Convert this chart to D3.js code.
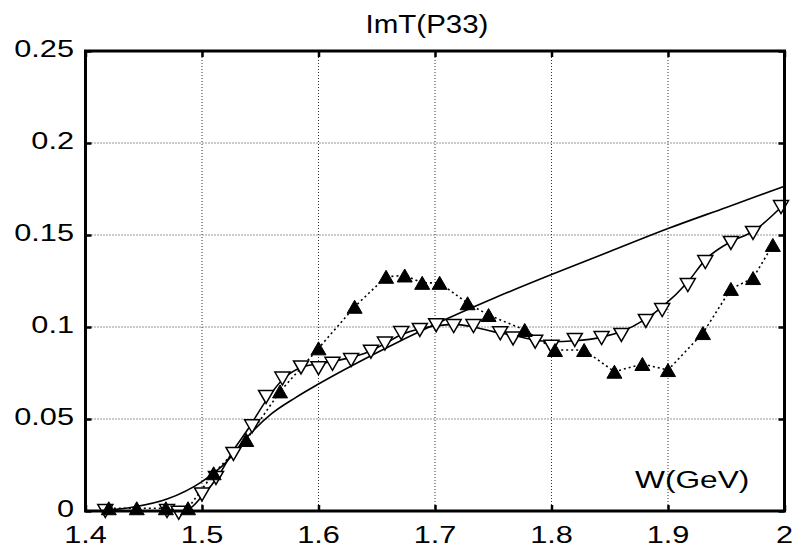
<!DOCTYPE html>
<html lang="en">
    <head>
        <meta charset="UTF-8" />
        <style>
            body { margin: 0; background: #fff; }
            text { font-family: Arial, "Liberation Sans", sans-serif; fill: #000; }
        </style>
    </head>
    <body>
        <svg id="chart" width="793" height="549"></svg>
        <script src="https://d3js.org/d3.v7.min.js"></script>
        <script>
            // tick labels
            var xTicks = [1.4, 1.5, 1.6, 1.7, 1.8, 1.9, 2.0]
            var yTicks = [0, 0.05, 0.1, 0.15, 0.2, 0.25]

            // open triangles (data points)
            var openW = [1.417, 1.470, 1.480, 1.500, 1.512, 1.527, 1.543, 1.555, 1.569, 1.585, 1.600, 1.612, 1.628, 1.645, 1.657, 1.671, 1.687, 1.701, 1.716, 1.733, 1.756, 1.767, 1.786, 1.800, 1.820, 1.843, 1.860, 1.881, 1.895, 1.917, 1.932, 1.954, 1.973, 1.997]
            var openV = [0, 0, -0.001, 0.009, 0.018, 0.031, 0.046, 0.062, 0.072, 0.078, 0.0776, 0.080, 0.082, 0.0866, 0.091, 0.0967, 0.0984, 0.101, 0.1005, 0.1005, 0.0966, 0.0938, 0.092, 0.0893, 0.093, 0.094, 0.0957, 0.1033, 0.1092, 0.1228, 0.1353, 0.1457, 0.1511, 0.1652]

            // filled triangles, joined by dotted line
            var filledW = [1.420, 1.444, 1.469, 1.488, 1.510, 1.538, 1.567, 1.600, 1.631, 1.658, 1.674, 1.689, 1.704, 1.728, 1.746, 1.777, 1.803, 1.828, 1.854, 1.878, 1.900, 1.930, 1.954, 1.973, 1.990]
            var filledV = [0.0015, 0.0015, 0.0015, 0.0015, 0.0205, 0.0386, 0.065, 0.0884, 0.111, 0.1273, 0.128, 0.124, 0.124, 0.1129, 0.1065, 0.0984, 0.0875, 0.0875, 0.0757, 0.0799, 0.0766, 0.0967, 0.1207, 0.1266, 0.1446]

            // smooth fit through open triangles
            var fitW = [1.47, 1.488, 1.50, 1.515, 1.527, 1.54, 1.555, 1.57, 1.585, 1.60, 1.628, 1.645, 1.657, 1.672, 1.687, 1.70, 1.716, 1.733, 1.75, 1.767, 1.786, 1.80, 1.82, 1.843, 1.86, 1.88, 1.895, 1.917, 1.932, 1.954, 1.973, 2.0]
            var fitV = [0, 0.001, 0.008, 0.02, 0.033, 0.045, 0.06, 0.072, 0.078, 0.080, 0.0835, 0.087, 0.091, 0.096, 0.099, 0.1005, 0.1014, 0.1, 0.0975, 0.0955, 0.093, 0.092, 0.0925, 0.0945, 0.0975, 0.104, 0.111, 0.1245, 0.1365, 0.1464, 0.152, 0.167]

            // monotonic model curve
            var modelW = [1.41, 1.44, 1.47, 1.50, 1.52, 1.54, 1.56, 1.58, 1.60, 1.65, 1.70, 1.75, 1.80, 1.85, 1.90, 1.95, 2.0]
            var modelV = [0, 0.002, 0.0065, 0.016, 0.026, 0.041, 0.053, 0.0615, 0.069, 0.086, 0.1015, 0.1155, 0.1285, 0.141, 0.1535, 0.165, 0.1765]

            var svg = d3.select("#chart")
            var pL = 85.5, pR = 784.5, pT = 51, pB = 511

            var x = d3.scaleLinear().domain([1.4, 2.0]).range([pL, pR])
            var y = d3.scaleLinear().domain([0, 0.25]).range([pB, pT])

            svg.append("rect").attr("width", 793).attr("height", 549).attr("fill", "#fff")

            // dotted grid
            var grid = svg.append("g").attr("stroke", "#333").attr("stroke-width", 1)
                .attr("stroke-dasharray", "1,2")
            grid.selectAll(".gx").data(xTicks.slice(1, -1)).enter().append("line")
                .attr("x1", d => x(d)).attr("x2", d => x(d)).attr("y1", pT).attr("y2", pB)
            grid.selectAll(".gy").data(yTicks.slice(1, -1)).enter().append("line")
                .attr("x1", pL).attr("x2", pR).attr("y1", d => y(d)).attr("y2", d => y(d))

            // inward ticks on all four sides
            function tickStyle(g) {
                g.select(".domain").remove()
                g.selectAll("text").remove()
                g.selectAll(".tick line").attr("stroke", "#000").attr("stroke-width", 2.5)
            }
            svg.append("g").attr("transform", `translate(0,${pB})`)
                .call(d3.axisBottom(x).tickValues(xTicks).tickSize(-6)).call(tickStyle)
            svg.append("g").attr("transform", `translate(0,${pT})`)
                .call(d3.axisTop(x).tickValues(xTicks).tickSize(-6)).call(tickStyle)
            svg.append("g").attr("transform", `translate(${pL},0)`)
                .call(d3.axisLeft(y).tickValues(yTicks).tickSize(-6)).call(tickStyle)
            svg.append("g").attr("transform", `translate(${pR},0)`)
                .call(d3.axisRight(y).tickValues(yTicks).tickSize(-6)).call(tickStyle)

            var line = d3.line().x(d => x(d[0])).y(d => y(d[1]))
            var smooth = d3.line().x(d => x(d[0])).y(d => y(d[1])).curve(d3.curveMonotoneX)

            var modelData = modelW.map((w, i) => [w, modelV[i]])
            var fitData = fitW.map((w, i) => [w, fitV[i]])
            var filledData = filledW.map((w, i) => [w, filledV[i]])
            var openData = openW.map((w, i) => [w, openV[i]])

            svg.append("path").datum(modelData).attr("d", smooth)
                .attr("fill", "none").attr("stroke", "#000").attr("stroke-width", 1.6)
            svg.append("path").datum(fitData).attr("d", smooth)
                .attr("fill", "none").attr("stroke", "#000").attr("stroke-width", 1.6)
            svg.append("path").datum(filledData).attr("d", line)
                .attr("fill", "none").attr("stroke", "#000").attr("stroke-width", 1.6)
                .attr("stroke-dasharray", "2,3")

            var tw = 15, th = 13
            var upTri = `M0,${-th / 2}L${tw / 2},${th / 2}L${-tw / 2},${th / 2}Z`
            var downTri = `M0,${th / 2}L${tw / 2},${-th / 2}L${-tw / 2},${-th / 2}Z`

            svg.append("g").selectAll("path").data(openData).enter().append("path")
                .attr("d", downTri)
                .attr("transform", d => `translate(${x(d[0])},${y(d[1])})`)
                .attr("fill", "#fff").attr("stroke", "#000").attr("stroke-width", 1.5)
            svg.append("g").selectAll("path").data(filledData).enter().append("path")
                .attr("d", upTri)
                .attr("transform", d => `translate(${x(d[0])},${y(d[1])})`)
                .attr("fill", "#000").attr("stroke", "#000").attr("stroke-width", 1)

            // frame
            svg.append("rect").attr("x", pL).attr("y", pT)
                .attr("width", pR - pL).attr("height", pB - pT)
                .attr("fill", "none").attr("stroke", "#000").attr("stroke-width", 3)

            // labels (text is a bit stretched horizontally in the reference)
            var sx = 1.28
            svg.append("g").selectAll("text").data(xTicks).enter().append("text")
                .attr("transform", d => `translate(${x(d)},543) scale(${sx},1)`)
                .attr("text-anchor", "middle").attr("font-size", 24)
                .text(d => d3.format("~g")(d))
            svg.append("g").selectAll("text").data(yTicks).enter().append("text")
                .attr("transform", d => `translate(74,${y(d) + 5.5}) scale(${sx},1)`)
                .attr("text-anchor", "end").attr("font-size", 24)
                .text(d => d3.format("~g")(d))

            svg.append("text").attr("transform", "translate(427,33) scale(1.18,1)")
                .attr("text-anchor", "middle").attr("font-size", 25).text("ImT(P33)")
            svg.append("text").attr("transform", "translate(635,488) scale(1.32,1)")
                .attr("font-size", 24).text("W(GeV)")
        </script>
    </body>
</html>
